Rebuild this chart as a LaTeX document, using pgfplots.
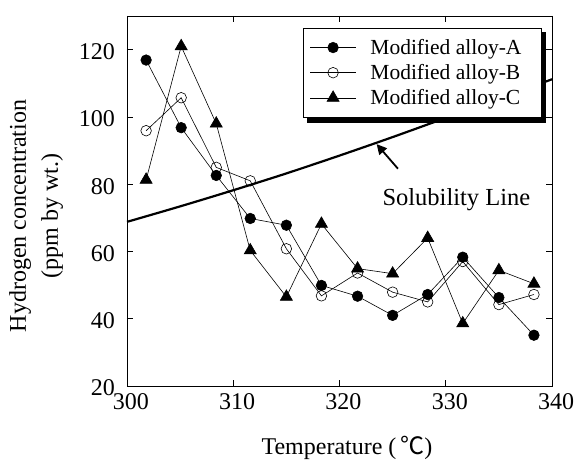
\documentclass[border=0pt]{standalone}
\usepackage{fontspec}
\setmainfont{Liberation Serif}
\newfontfamily\cjk{Noto Sans CJK SC}
\usepackage{pgfplots}
\pgfplotsset{compat=1.18}
\usetikzlibrary{arrows.meta,calc}
\begin{document}
\begin{tikzpicture}[font=\fontsize{21.5}{25}\selectfont]
\useasboundingbox (-127pt,-75pt) rectangle (449pt,386pt);
\begin{axis}[
  at={(0,0)}, anchor=south west,
  scale only axis, width=425pt, height=370pt,
  xmin=300, xmax=340, ymin=20, ymax=130,
  xtick={300,310,...,340}, ytick={20,40,...,120},
  tick align=inside, tick style={black, line width=0.6pt}, major tick length=6pt,
  axis line style={line width=0.8pt},
  /pgf/number format/assume math mode=true,
  tick label style={font=\fontsize{24}{28}\selectfont, inner sep=0pt},
  xticklabel style={yshift=-7pt, xshift=4pt},
  yticklabel style={xshift=-12pt, yshift=-2pt},
  clip=false,
  legend style={name=leg, at={(0.976,0.968)}, anchor=north east, draw=black, line width=0.8pt, fill=white,
    font=\fontsize{21.5}{25}\selectfont, row sep=4.5pt, inner xsep=6pt, inner ysep=9pt,
    cells={anchor=west}},
  legend image code/.code={
    \draw[mark repeat=2,mark phase=2,#1] plot coordinates {(0pt,0pt) (23pt,0pt) (46pt,0pt)};
    \path (58pt,0pt);},
]
\addplot[black, line width=0.6pt, mark=*, mark size=5.3pt, mark options={solid, fill=black}] coordinates {
 (301.8,116.9) (305.1,96.8) (308.4,82.6) (311.6,69.8) (315.0,67.8) (318.3,49.9)
 (321.7,46.7) (325.0,41.0) (328.3,47.2) (331.6,58.3) (335.0,46.3) (338.3,35.1)};
\addlegendentry{\makebox[163pt][l]{Modified alloy-A}}
\addplot[black, line width=0.6pt, mark=o, mark size=5.3pt, mark options={solid, fill=white}] coordinates {
 (301.8,95.9) (305.1,105.7) (308.4,85.0) (311.6,81.0) (315.0,60.8) (318.3,46.8)
 (321.7,53.6) (325.0,47.9) (328.3,45.0) (331.6,57.0) (335.0,44.2) (338.3,47.2)};
\addlegendentry{\makebox[163pt][l]{Modified alloy-B}}
\addplot[black, line width=0.6pt, mark=triangle*, mark size=7pt, mark options={solid, fill=black}] coordinates {
 (301.8,81.3) (305.1,121.0) (308.4,98.0) (311.6,60.3) (315.0,46.5) (318.3,68.2)
 (321.7,54.9) (325.0,53.4) (328.3,64.0) (331.6,38.6) (335.0,54.4) (338.3,50.4)};
\addlegendentry{\makebox[163pt][l]{Modified alloy-C}}
\addplot[black, line width=2.2pt, smooth, forget plot] coordinates {
 (300,68.8) (305,73.4) (310,78.2) (315,83.2) (320,88.5) (325,94.0) (330,99.7) (335,105.3) (340,111.2)};
\draw[-{Triangle[length=10pt,width=10pt]}, line width=1.8pt] (axis cs:325.5,84.6) -- (axis cs:323.5,91.9);
\node[anchor=base, font=\fontsize{24.5}{28}\selectfont] at (axis cs:331.0,73.6) {Solubility Line};
\node[rotate=90, anchor=base, font=\fontsize{24}{28}\selectfont] at ($(rel axis cs:0,0.5)+(-101pt,-15pt)$) {Hydrogen concentration};
\node[rotate=90, anchor=base, font=\fontsize{24}{28}\selectfont] at ($(rel axis cs:0,0.5)+(-69pt,-15pt)$) {(ppm by wt.)};
\node[anchor=base, font=\fontsize{24}{28}\selectfont] at ($(rel axis cs:0.5176,0)+(0pt,-68pt)$) {Temperature (\,{\cjk ℃})};
\end{axis}
\fill[black] ($(leg.south west)+(4pt,0pt)$) rectangle ($(leg.south east)+(4pt,-5pt)$);
\fill[black] ($(leg.north east)+(0pt,-4pt)$) rectangle ($(leg.south east)+(4pt,0pt)$);
\end{tikzpicture}
\end{document}
